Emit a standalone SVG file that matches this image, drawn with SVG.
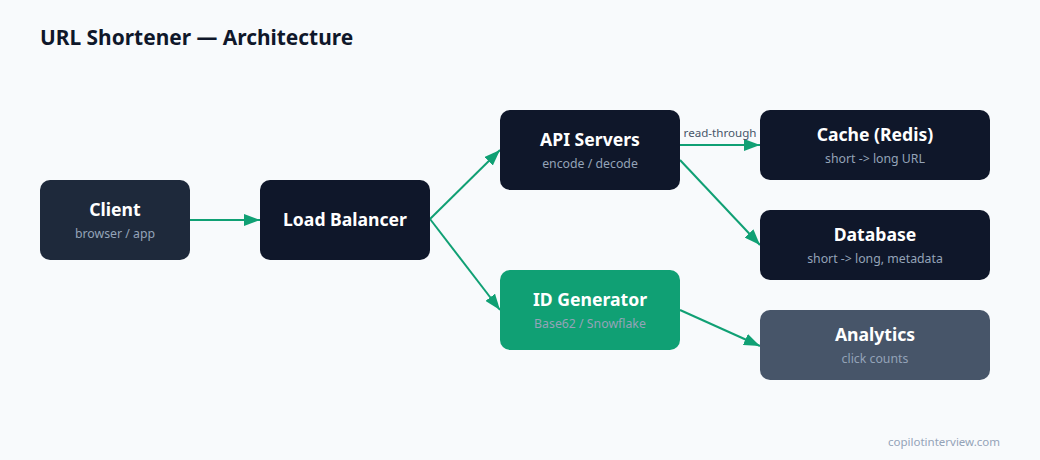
<svg xmlns="http://www.w3.org/2000/svg" width="1040" height="460" viewBox="0 0 1040 460">
<defs>
<marker id="ah" viewBox="0 0 16 12" refX="16" refY="6" markerWidth="16" markerHeight="12" markerUnits="userSpaceOnUse" orient="auto">
<path d="M0,0 L16,6 L0,12 Z" fill="#10a074"/>
</marker>
<style>
.t{font-family:"Noto Sans","Open Sans","Liberation Sans",sans-serif;font-weight:700;font-size:17.6px;fill:#ffffff;text-anchor:middle}
.s{font-family:"Noto Sans","Open Sans","Liberation Sans",sans-serif;font-size:12.3px;fill:#94a3b8;text-anchor:middle}
.e{stroke:#10a074;stroke-width:2;fill:none;marker-end:url(#ah)}
.n{fill:#0f172a}
</style>
</defs>
<rect width="1040" height="460" fill="#f8fafc"/>
<text x="40" y="45" font-family="Noto Sans,'Open Sans','Liberation Sans',sans-serif" font-weight="700" font-size="20.9" fill="#0f172a">URL Shortener — Architecture</text>
<g id="connectors">
<line class="e" x1="190" y1="220" x2="260" y2="220"/>
<line class="e" x1="430" y1="219" x2="500" y2="150"/>
<line class="e" x1="430" y1="219" x2="500" y2="310"/>
<line class="e" x1="680" y1="145" x2="760" y2="145"/>
<text x="720" y="137" font-family="Noto Sans,'Open Sans','Liberation Sans',sans-serif" font-size="11.6" fill="#475569" text-anchor="middle">read-through</text>
<line class="e" x1="680" y1="160" x2="760" y2="245"/>
<line class="e" x1="680" y1="310" x2="760" y2="346"/>
</g>
<g id="client">
<rect x="40" y="180" width="150" height="80" rx="10" fill="#1e293b"/>
<text class="t" x="115" y="216">Client</text>
<text class="s" x="115" y="238">browser / app</text>
</g>
<g id="lb">
<rect class="n" x="260" y="180" width="170" height="80" rx="10"/>
<text class="t" x="345" y="226">Load Balancer</text>
</g>
<g id="api">
<rect class="n" x="500" y="110" width="180" height="80" rx="10"/>
<text class="t" x="590" y="146">API Servers</text>
<text class="s" x="590" y="168">encode / decode</text>
</g>
<g id="idgen">
<rect x="500" y="270" width="180" height="80" rx="10" fill="#10a074"/>
<text class="t" x="590" y="306">ID Generator</text>
<text class="s" x="590" y="328">Base62 / Snowflake</text>
</g>
<g id="cache">
<rect class="n" x="760" y="110" width="230" height="70" rx="10"/>
<text class="t" x="875" y="141">Cache (Redis)</text>
<text class="s" x="875" y="163">short -&gt; long URL</text>
</g>
<g id="db">
<rect class="n" x="760" y="210" width="230" height="70" rx="10"/>
<text class="t" x="875" y="241">Database</text>
<text class="s" x="875" y="263">short -&gt; long, metadata</text>
</g>
<g id="analytics">
<rect x="760" y="310" width="230" height="70" rx="10" fill="#475569"/>
<text class="t" x="875" y="341">Analytics</text>
<text class="s" x="875" y="363">click counts</text>
</g>
<text x="1000" y="446" font-family="Noto Sans,'Open Sans','Liberation Sans',sans-serif" font-size="11.5" fill="#94a3b8" text-anchor="end">copilotinterview.com</text>
</svg>
